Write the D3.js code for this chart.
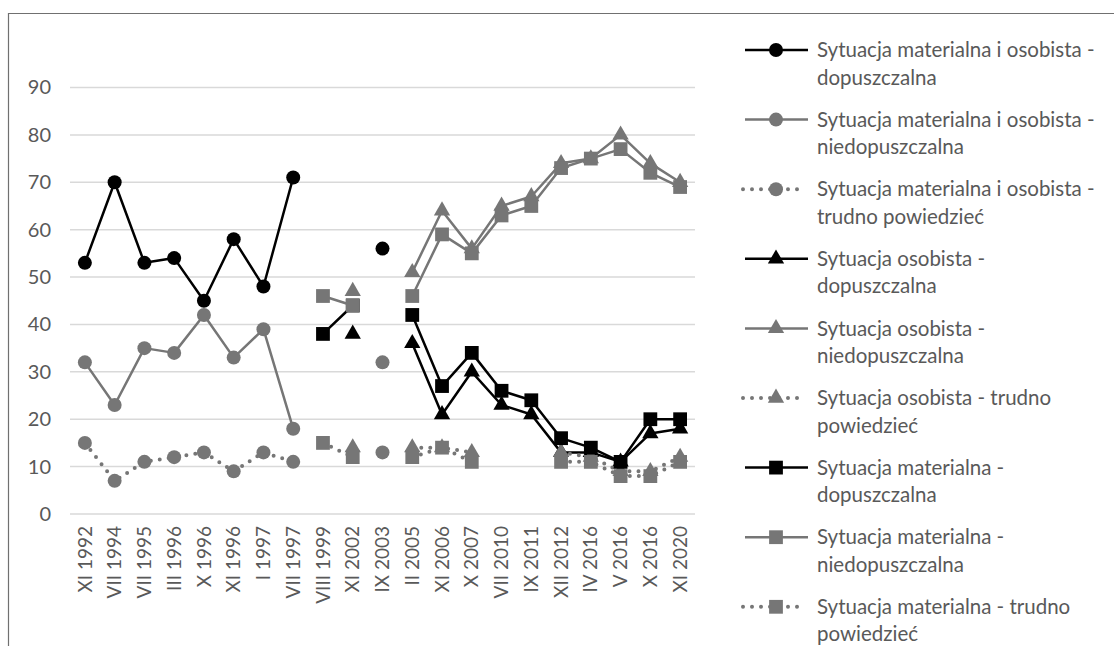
<!DOCTYPE html>
<html><head><meta charset="utf-8">
<script src="https://cdn.jsdelivr.net/npm/d3@7"></script>
<style>body{margin:0;background:#fff} text{font-family:Lato, "Open Sans", sans-serif}</style>
</head><body><svg id="c" width="1114" height="646"></svg>
<script>
const categories = ["XI 1992","VII 1994","VII 1995","III 1996","X 1996","XI 1996","I 1997","VII 1997","VIII 1999","XI 2002","IX 2003","II 2005","XI 2006","X 2007","VII 2010","IX 2011","XII 2012","IV 2016","V 2016","X 2016","XI 2020"];
const yTicks = [0,10,20,30,40,50,60,70,80,90];
const N = null;
const moDop    = [53,70,53,54,45,58,48,71,N,N,56,N,N,N,N,N,N,N,N,N,N];
const moNiedop = [32,23,35,34,42,33,39,18,N,N,32,N,N,N,N,N,N,N,N,N,N];
const moTrudno = [15,7,11,12,13,9,13,11,N,N,13,N,N,N,N,N,N,N,N,N,N];
const oDop     = [N,N,N,N,N,N,N,N,N,38,N,36,21,30,23,21,13,13,11,17,18];
const oNiedop  = [N,N,N,N,N,N,N,N,N,47,N,51,64,56,65,67,74,75,80,74,70];
const oTrudno  = [N,N,N,N,N,N,N,N,N,14,N,14,14,13,N,N,13,12,9,9,12];
const mDop     = [N,N,N,N,N,N,N,N,38,44,N,42,27,34,26,24,16,14,11,20,20];
const mNiedop  = [N,N,N,N,N,N,N,N,46,44,N,46,59,55,63,65,73,75,77,72,69];
const mTrudno  = [N,N,N,N,N,N,N,N,15,12,N,12,14,11,N,N,11,11,8,8,11];
const seriesNames = [
  ["Sytuacja materialna i osobista -","dopuszczalna"],
  ["Sytuacja materialna i osobista -","niedopuszczalna"],
  ["Sytuacja materialna i osobista -","trudno powiedzieć"],
  ["Sytuacja osobista -","dopuszczalna"],
  ["Sytuacja osobista -","niedopuszczalna"],
  ["Sytuacja osobista - trudno","powiedzieć"],
  ["Sytuacja materialna -","dopuszczalna"],
  ["Sytuacja materialna -","niedopuszczalna"],
  ["Sytuacja materialna - trudno","powiedzieć"]
];
const BLACK = "#000000", GRAY = "#767676";
const series = [
  {v: moDop, color: BLACK, marker: "circle", dotted: false},
  {v: moNiedop, color: GRAY, marker: "circle", dotted: false},
  {v: moTrudno, color: GRAY, marker: "circle", dotted: true},
  {v: oDop, color: BLACK, marker: "triangle", dotted: false},
  {v: oNiedop, color: GRAY, marker: "triangle", dotted: false},
  {v: oTrudno, color: GRAY, marker: "triangle", dotted: true},
  {v: mDop, color: BLACK, marker: "square", dotted: false},
  {v: mNiedop, color: GRAY, marker: "square", dotted: false},
  {v: mTrudno, color: GRAY, marker: "square", dotted: true}
];

const svg = d3.select("#c");
// frame
svg.append("path").attr("d","M8.5,646 V13.5 H1114").attr("fill","none").attr("stroke","#707070").attr("stroke-width",1.2);

const x = d3.scaleBand().domain(categories).range([70,695]).padding(0);
const y = d3.scaleLinear().domain([0,90]).range([514,87.5]);
const cx = c => x(c) + x.bandwidth()/2;

// gridlines
svg.append("g").selectAll("line").data(yTicks).join("line")
  .attr("x1",70).attr("x2",695).attr("y1",d=>y(d)).attr("y2",d=>y(d))
  .attr("stroke","#d9d9d9").attr("stroke-width",1.5);

// y axis labels
const yAxis = d3.axisLeft(y).tickValues(yTicks).tickSize(0).tickPadding(0);
const ya = svg.append("g").attr("transform","translate(51,0)").call(yAxis);
ya.select(".domain").remove();
ya.selectAll("text").attr("fill","#595959").attr("font-size",20).attr("font-family","Lato, sans-serif");

// x axis labels
const xAxis = d3.axisBottom(x).tickSize(0).tickPadding(0);
const xa = svg.append("g").attr("transform","translate(0,526)").call(xAxis);
xa.select(".domain").remove();
xa.selectAll("text").attr("fill","#595959").attr("font-size",19).attr("font-family","Lato, sans-serif")
  .attr("transform","rotate(-90)").attr("text-anchor","end").attr("dy","0.35em").attr("y",0).attr("x",0);

const symTri = d3.symbol().type(d3.symbolTriangle).size(115);
const symSq = d3.symbol().type(d3.symbolSquare).size(190);

function drawMarker(g, type, px, py, color){
  if(type==="circle") g.append("circle").attr("cx",px).attr("cy",py).attr("r",7).attr("fill",color);
  else if(type==="triangle") g.append("path").attr("d",symTri()).attr("transform",`translate(${px},${py})`).attr("fill",color);
  else g.append("path").attr("d",symSq()).attr("transform",`translate(${px},${py})`).attr("fill",color);
}

const line = d3.line().defined(d=>d.v!=null).x(d=>cx(d.c)).y(d=>y(d.v));
series.forEach(s=>{
  const g = svg.append("g");
  const data = categories.map((c,i)=>({c, v:s.v[i]}));
  const p = g.append("path").attr("d",line(data)).attr("fill","none").attr("stroke",s.color);
  if(s.dotted) p.attr("stroke-width",4).attr("stroke-dasharray","0 9").attr("stroke-linecap","round");
  else p.attr("stroke-width",2.5).attr("stroke-linejoin","round");
  data.filter(d=>d.v!=null).forEach(d=>drawMarker(g, s.marker, cx(d.c), y(d.v), s.color));
});

// legend
const lg = svg.append("g");
series.forEach((s,i)=>{
  const yy = 50 + i*69.6;
  const g = lg.append("g");
  if(s.dotted){
    g.append("line").attr("x1",743).attr("x2",806).attr("y1",yy).attr("y2",yy).attr("stroke",s.color)
      .attr("stroke-width",4).attr("stroke-dasharray","0 9").attr("stroke-linecap","round");
  } else {
    g.append("line").attr("x1",745).attr("x2",808).attr("y1",yy).attr("y2",yy).attr("stroke",s.color).attr("stroke-width",2.5);
  }
  drawMarker(g, s.marker, 776, yy, s.color);
  const t = g.append("text").attr("x",817).attr("y",yy).attr("fill","#595959").attr("font-size",20.5);
  seriesNames[i].forEach((ln,j)=>t.append("tspan").attr("x",817).attr("y",yy + j*27.5).attr("dy","0.35em").text(ln));
});
</script></body></html>
